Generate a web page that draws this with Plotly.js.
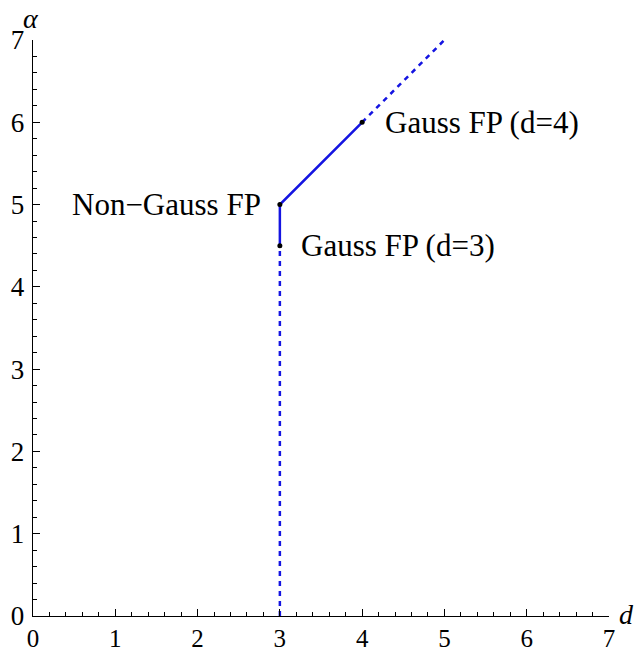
<!DOCTYPE html>
<html>
<head>
<meta charset="utf-8">
<script src="https://cdn.plot.ly/plotly-3.0.1.min.js"></script>
<style>html,body{margin:0;padding:0;background:#fff;}</style>
</head>
<body>
<div id="chart" style="width:640px;height:652px;"></div>
<script>
// Segments of the fixed-point line (d, alpha)
const lowerDashedD = [3, 3];
const lowerDashedA = [0, 4.5];
const solidD = [3, 3, 4];
const solidA = [4.5, 5, 6];
const upperDashedD = [4, 5];
const upperDashedA = [6, 7];
// Fixed points
const fpNames = ["Gauss FP (d=3)", "Non\u2212Gauss FP", "Gauss FP (d=4)"];
const fpD = [3, 3, 4];
const fpA = [4.5, 5, 6];
const tickVals = [0, 1, 2, 3, 4, 5, 6, 7];

const blue = "rgb(20,20,225)";
const serif = "Liberation Serif, Times New Roman, serif";

const traces = [
  {x: lowerDashedD, y: lowerDashedA, mode: "lines", line: {color: blue, width: 2.5, dash: "5px,5px"}, hoverinfo: "skip"},
  {x: solidD, y: solidA, mode: "lines", line: {color: blue, width: 2.5}, hoverinfo: "skip"},
  {x: upperDashedD, y: upperDashedA, mode: "lines", line: {color: blue, width: 2.5, dash: "5px,5px"}, hoverinfo: "skip"},
  {x: fpD, y: fpA, mode: "markers", marker: {color: "black", size: 5}, hoverinfo: "skip"}
];

const shifts = [[19, 0, "left"], [-17, 0, "right"], [21, 0, "left"]];
const annotations = fpNames.map((t, i) => ({
  x: fpD[i], y: fpA[i], xref: "x", yref: "y", text: t, showarrow: false,
  xanchor: shifts[i][2], yanchor: "middle", xshift: shifts[i][0], yshift: shifts[i][1],
  font: {family: serif, size: 31, color: "black"}
}));
annotations.push({xref: "paper", yref: "paper", x: 0, y: 1.0, xshift: -2, yshift: 4, text: "<i>\u03b1</i>", showarrow: false,
  xanchor: "center", yanchor: "bottom", font: {family: serif, size: 28, color: "black"}});
annotations.push({xref: "paper", yref: "paper", x: 1.0, y: 0, xshift: 8, yshift: 2, text: "<i>d</i>", showarrow: false,
  xanchor: "left", yanchor: "middle", font: {family: serif, size: 28, color: "black"}});

const axisCommon = {
  range: [0, 7], tickvals: tickVals, ticktext: tickVals.map(String),
  showgrid: false, zeroline: false, showline: true, linecolor: "black", linewidth: 1.3,
  ticks: "inside", ticklen: 7, tickwidth: 1.2, tickcolor: "black",
  minor: {dtick: 0.2, ticks: "inside", ticklen: 4, tickwidth: 1, tickcolor: "black", showgrid: false},
  fixedrange: true
};

const layout = {
  width: 640, height: 652,
  margin: {l: 33, r: 31, t: 40, b: 36},
  showlegend: false,
  paper_bgcolor: "white", plot_bgcolor: "white",
  xaxis: Object.assign({}, axisCommon, {ticklabelstandoff: 0, tickfont: {family: serif, size: 25, color: "black"}}),
  yaxis: Object.assign({}, axisCommon, {ticklabelstandoff: 2, tickfont: {family: serif, size: 27, color: "black"}}),
  annotations: annotations
};

Plotly.newPlot("chart", traces, layout, {displayModeBar: false, staticPlot: true});
</script>
</body>
</html>
